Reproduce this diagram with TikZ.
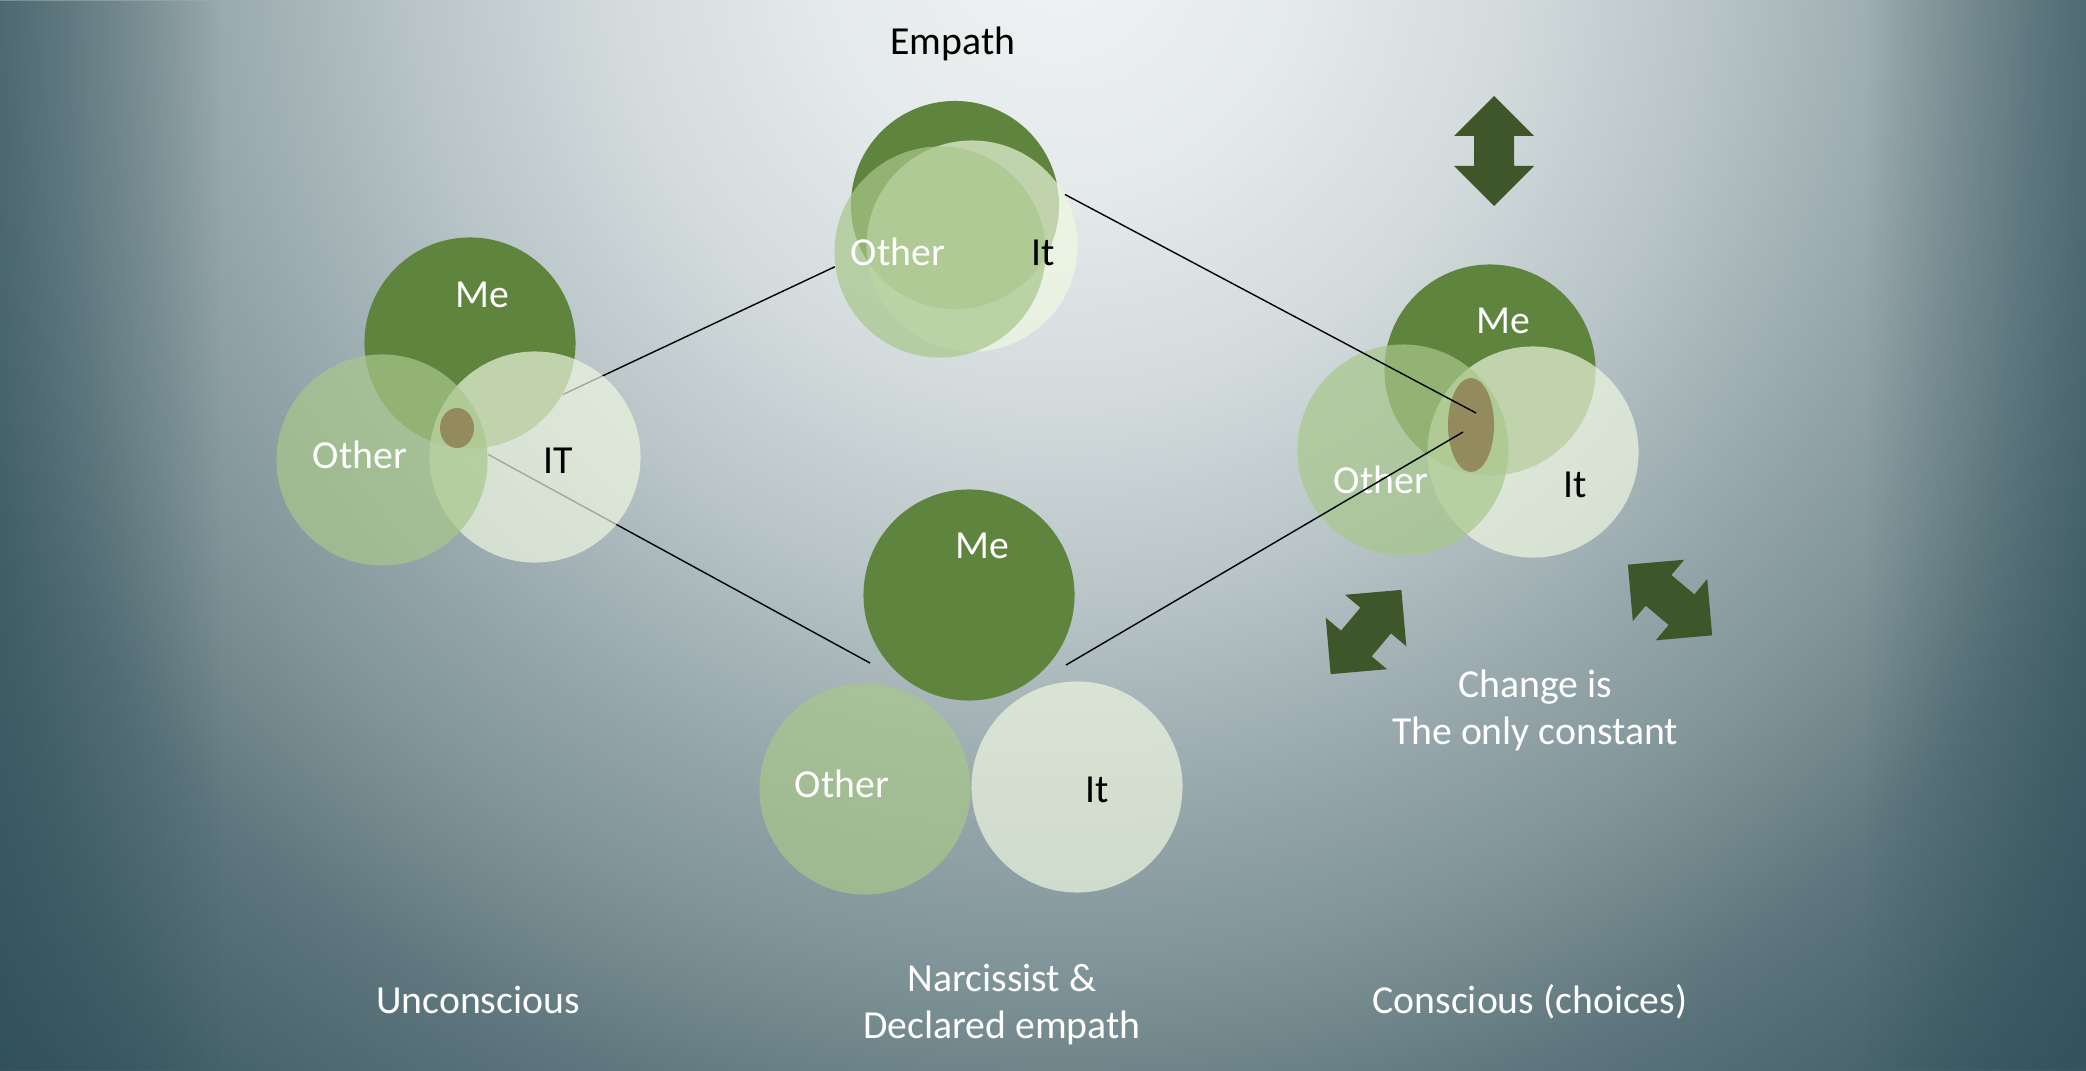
\documentclass[tikz,border=0pt]{standalone}
\usepackage{fontspec}
\setmainfont{Carlito}
\usetikzlibrary{shapes.geometric,calc,fadings}

\definecolor{bgA}{HTML}{F0F3F3}
\definecolor{bgB}{HTML}{E4E9EA}
\definecolor{bgC}{HTML}{D3DBDC}
\definecolor{bgD}{HTML}{B8C4C7}
\definecolor{bgE}{HTML}{98A8AC}
\definecolor{bgF}{HTML}{7E9398}
\definecolor{bgG}{HTML}{71878C}
\definecolor{bgI}{HTML}{5F777E}
\definecolor{bgH}{HTML}{30505A}
\definecolor{mecol}{HTML}{5F843D}
\definecolor{othercol}{RGB}{168,199,139}
\definecolor{itcol}{RGB}{240,249,226}
\definecolor{blobcol}{HTML}{938B5E}
\definecolor{arrowgreen}{HTML}{3E5629}

\pgfdeclareradialshading{backshade}{\pgfpoint{0bp}{0bp}}{color(0bp)=(bgA); color(3.9bp)=(bgB); color(7bp)=(bgC); color(10.2bp)=(bgD); color(13.3bp)=(bgE); color(16.1bp)=(bgF); color(17.3bp)=(bgG); color(18.75bp)=(bgI); color(24.5bp)=(bgH); color(50bp)=(bgH)}
\tikzfading[name=edgefade, left color=transparent!40, middle color=transparent!88, right color=transparent!100]
\pgfdeclarelayer{back}
\pgfsetlayers{back,main}

\newcommand{\lblfont}{\fontsize{11.3pt}{13.6pt}\selectfont}

\tikzset{dblarrow/.pic={
  \fill[arrowgreen] (0,-55) -- (40,-15) -- (20,-15) -- (20,15) -- (40,15) -- (0,55)
    -- (-40,15) -- (-20,15) -- (-20,-15) -- (-40,-15) -- cycle;}}

\begin{document}
\begin{tikzpicture}[x=0.01cm, y=-0.01cm,
  disc/.style={circle, inner sep=0pt, minimum size=2.11cm},
  me/.style={disc, fill=mecol},
  other/.style={disc, fill=othercol, fill opacity=0.7},
  it/.style={disc, fill=itcol, fill opacity=0.68},
  blob/.style={ellipse, inner sep=0pt, fill=blobcol},
  lbl/.style={font=\lblfont, inner sep=0pt, anchor=base},
  twoline/.style={lbl, align=center, font=\fontsize{11.3pt}{13.2pt}\selectfont},
  link/.style={draw=black, line width=0.4pt}]

  \useasboundingbox (0,0) rectangle (2086,1070);
  \begin{pgfonlayer}{back}
    \begin{scope}
      \clip (0,0) rectangle (2086,1070);
      \shade[shading=backshade] (1060,-50) circle (16cm);
    \end{scope}
    \fill[bgH, path fading=edgefade] (0,0) rectangle (220,1070);
    \fill[bgH, path fading=edgefade, fading angle=180] (1866,0) rectangle (2086,1070);
  \end{pgfonlayer}

  % unconscious
  \node[me] (meL) at (470,343) {};
  \node[it] (itL) at (535,457) {};
  \node[other] (otherL) at (382,460) {};
  \node[blob, minimum width=0.34cm, minimum height=0.40cm] (blobL) at (457,428) {};
  \node[lbl, white] (tMeL) at (482,307) {Me};
  \node[lbl, white] (tOtherL) at (360,468) {Other};
  \node[lbl, black] (tItL) at (558,473) {IT};

  % empath
  \node[me, minimum size=2.08cm] (empMe) at (955,205) {};
  \node[it] (empIt) at (972,246) {};
  \node[other] (empOther) at (940,252) {};
  \node[lbl, black] (tEmpath) at (953,55) {Empath};
  \node[lbl, white] (tOtherE) at (898,265) {Other};
  \node[lbl, black] (tItE) at (1043,265) {It};

  % narcissist
  \node[me] (meB) at (969,595) {};
  \node[other] (otherB) at (865,789) {};
  \node[it] (itB) at (1077,787) {};
  \node[lbl, white] (tMeB) at (982,558) {Me};
  \node[lbl, white] (tOtherB) at (842,797) {Other};
  \node[lbl, black] (tItB) at (1097,802) {It};

  % conscious
  \node[me] (meR) at (1490,370) {};
  \node[it] (itR) at (1533,452) {};
  \node[other] (otherR) at (1403,450) {};
  \node[blob, minimum width=0.46cm, minimum height=0.94cm] (blobR) at (1471,425) {};
  \node[lbl, white] (tMeR) at (1503,333) {Me};
  \node[lbl, white] (tOtherR) at (1381,493) {Other};
  \node[lbl, black] (tItR) at (1575,497) {It};

  \coordinate (nbL) at (870,663);
  \coordinate (nbR) at (1066,665);
  \coordinate (cfA) at (1476,413);
  \coordinate (cfB) at (1463,432);

  \begin{pgfonlayer}{back}
    \draw[link] (meL.-29) -- (empOther.188);
    \draw[link] (otherL.3) -- (nbL);
  \end{pgfonlayer}
  \draw[link] (empIt.29) -- (cfA);
  \draw[link] (nbR) -- (cfB);

  \pic at (1494,151) {dblarrow};
  \pic[rotate=-40] at (1366,632) {dblarrow};
  \pic[rotate=50] at (1670,600) {dblarrow};

  \node[twoline, white] (tChange) at (1535,744) {Change is\\The only constant};
  \node[lbl, white] (tUncon) at (478,1013) {Unconscious};
  \node[twoline, white] (tNarc) at (1002,1038) {Narcissist \&\\Declared empath};
  \node[lbl, white] (tCon) at (1530,1013) {Conscious (choices)};
\end{tikzpicture}
\end{document}
